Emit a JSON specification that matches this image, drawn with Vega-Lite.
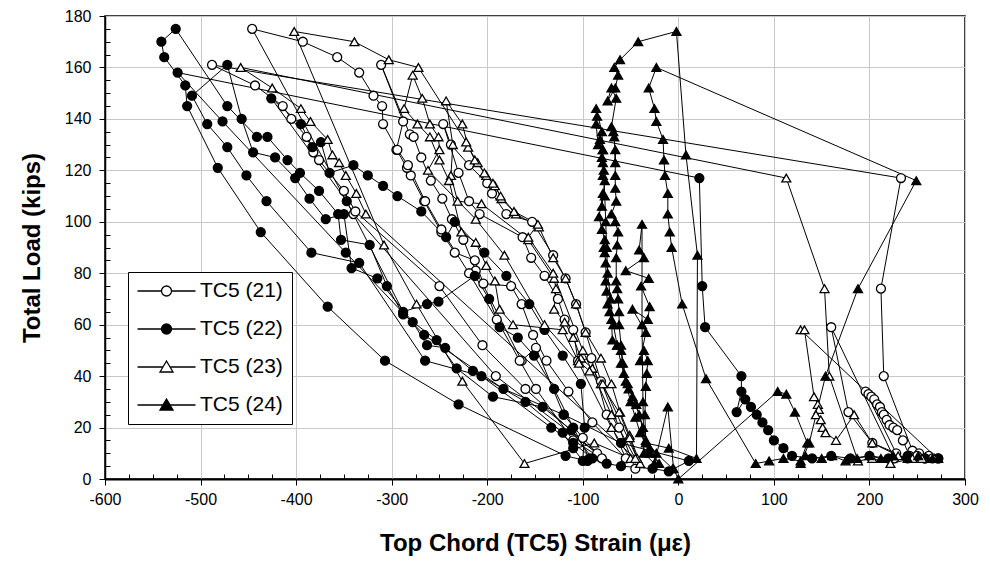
{
"$schema": "https://vega.github.io/schema/vega-lite/v6.json",
"width": 860, "height": 463,
"autosize": {"type": "none"},
"padding": {"left": 105, "top": 16, "right": 25, "bottom": 94},
"background": "white",
"config": {"font": "Liberation Sans", "view": {"stroke": "black", "strokeWidth": 1.5},
  "axis": {"labelFont": "Liberation Sans", "labelFontSize": 16, "labelColor": "black", "titleFont": "Liberation Sans", "titleFontWeight": "bold", "titleFontSize": 24, "titleColor": "black", "domainColor": "black", "tickColor": "black", "gridColor": "#c8c8c8", "gridWidth": 1}},
"data": {"values": [
{"s":"21","i":1,"x":-45,"y":4},{"s":"21","i":1.5,"x":-62,"y":20},{"s":"21","i":2,"x":-81,"y":38},{"s":"21","i":3,"x":-97,"y":57},{"s":"21","i":4,"x":-107,"y":68},{"s":"21","i":5,"x":-118,"y":78},{"s":"21","i":6,"x":-131,"y":87},{"s":"21","i":7,"x":-153,"y":100},{"s":"21","i":8,"x":-180,"y":103},{"s":"21","i":9,"x":-195,"y":111},{"s":"21","i":10,"x":-200,"y":115},{"s":"21","i":11,"x":-219,"y":122},{"s":"21","i":12,"x":-238,"y":130},{"s":"21","i":13,"x":-246,"y":138},{"s":"21","i":14,"x":-230,"y":119},{"s":"21","i":15,"x":-219,"y":108},{"s":"21","i":16,"x":-208,"y":103},{"s":"21","i":17,"x":-163,"y":94},{"s":"21","i":18,"x":-154,"y":86},{"s":"21","i":19,"x":-140,"y":79},{"s":"21","i":20,"x":-126,"y":70},{"s":"21","i":21,"x":-119,"y":62},{"s":"21","i":22,"x":-110,"y":58},{"s":"21","i":23,"x":-105,"y":46},{"s":"21","i":24,"x":-91,"y":47},{"s":"21","i":25,"x":-75,"y":25},{"s":"21","i":26,"x":-55,"y":8},{"s":"21","i":26.3,"x":-90,"y":22},{"s":"21","i":26.6,"x":-115,"y":34},{"s":"21","i":27,"x":-138,"y":46},{"s":"21","i":28,"x":-152,"y":56},{"s":"21","i":29,"x":-164,"y":68},{"s":"21","i":30,"x":-175,"y":75},{"s":"21","i":31,"x":-204,"y":76},{"s":"21","i":32,"x":-213,"y":85},{"s":"21","i":33,"x":-234,"y":88},{"s":"21","i":34,"x":-248,"y":96},{"s":"21","i":35,"x":-266,"y":108},{"s":"21","i":36,"x":-280,"y":118},{"s":"21","i":37,"x":-284,"y":121},{"s":"21","i":38,"x":-295,"y":128},{"s":"21","i":39,"x":-288,"y":139},{"s":"21","i":40,"x":-311,"y":161},{"s":"21","i":41,"x":-281,"y":134},{"s":"21","i":42,"x":-277,"y":133},{"s":"21","i":43,"x":-269,"y":125},{"s":"21","i":44,"x":-259,"y":116},{"s":"21","i":45,"x":-247,"y":109},{"s":"21","i":46,"x":-237,"y":101},{"s":"21","i":47,"x":-225,"y":93},{"s":"21","i":48,"x":-212,"y":81},{"s":"21","i":49,"x":-164,"y":46},{"s":"21","i":50,"x":-149,"y":51},{"s":"21","i":51,"x":-120,"y":25},{"s":"21","i":51.5,"x":-100,"y":16},{"s":"21","i":52,"x":-85,"y":10},{"s":"21","i":53,"x":-191,"y":40},{"s":"21","i":54,"x":-340,"y":103},{"s":"21","i":55,"x":-446,"y":175},{"s":"21","i":56,"x":-393,"y":170},{"s":"21","i":57,"x":-357,"y":164},{"s":"21","i":58,"x":-334,"y":158},{"s":"21","i":59,"x":-319,"y":149},{"s":"21","i":60,"x":-310,"y":145},{"s":"21","i":61,"x":-309,"y":138},{"s":"21","i":62,"x":-294,"y":128},{"s":"21","i":63,"x":-283,"y":122},{"s":"21","i":64,"x":-265,"y":108},{"s":"21","i":65,"x":-248,"y":97},{"s":"21","i":66,"x":-219,"y":80},{"s":"21","i":67,"x":-190,"y":62},{"s":"21","i":68,"x":-166,"y":46},{"s":"21","i":69,"x":-149,"y":35},{"s":"21","i":70,"x":-110,"y":15},{"s":"21","i":71,"x":-80,"y":8},{"s":"21","i":71.5,"x":-160,"y":35},{"s":"21","i":71.7,"x":-205,"y":52},{"s":"21","i":72,"x":-250,"y":75},{"s":"21","i":73,"x":-338,"y":104},{"s":"21","i":74,"x":-350,"y":112},{"s":"21","i":75,"x":-376,"y":124},{"s":"21","i":76,"x":-382,"y":127},{"s":"21","i":77,"x":-389,"y":133},{"s":"21","i":78,"x":-405,"y":140},{"s":"21","i":79,"x":-414,"y":145},{"s":"21","i":80,"x":-443,"y":153},{"s":"21","i":81,"x":-488,"y":161},{"s":"21","i":82,"x":233,"y":117},{"s":"21","i":83,"x":212,"y":74},{"s":"21","i":84,"x":215,"y":40},{"s":"21","i":85,"x":245,"y":11},{"s":"21","i":86,"x":252,"y":10},{"s":"21","i":87,"x":262,"y":9},{"s":"21","i":88,"x":240,"y":8},{"s":"21","i":89,"x":226,"y":8},{"s":"21","i":90,"x":160,"y":59},{"s":"21","i":91,"x":178,"y":26},{"s":"21","i":92,"x":203,"y":14},{"s":"21","i":93,"x":228,"y":10},{"s":"21","i":94,"x":196,"y":34},{"s":"21","i":95,"x":199,"y":33},{"s":"21","i":96,"x":202,"y":32},{"s":"21","i":97,"x":205,"y":31},{"s":"21","i":98,"x":208,"y":29},{"s":"21","i":99,"x":211,"y":28},{"s":"21","i":100,"x":213,"y":26},{"s":"21","i":101,"x":215,"y":25},{"s":"21","i":102,"x":218,"y":23},{"s":"21","i":103,"x":221,"y":21},{"s":"21","i":104,"x":225,"y":20},{"s":"21","i":105,"x":229,"y":19},{"s":"21","i":106,"x":235,"y":15},{"s":"21","i":107,"x":242,"y":9},{"s":"21","i":108,"x":250,"y":9},{"s":"21","i":109,"x":258,"y":8},{"s":"21","i":110,"x":266,"y":8},{"s":"21","i":111,"x":272,"y":8},
{"s":"22","i":1,"x":-95,"y":7},{"s":"22","i":2,"x":-118,"y":9},{"s":"22","i":3,"x":-230,"y":29},{"s":"22","i":4,"x":-307,"y":46},{"s":"22","i":5,"x":-367,"y":67},{"s":"22","i":6,"x":-437,"y":96},{"s":"22","i":7,"x":-482,"y":121},{"s":"22","i":8,"x":-514,"y":145},{"s":"22","i":9,"x":-516,"y":153},{"s":"22","i":10,"x":-538,"y":164},{"s":"22","i":11,"x":-541,"y":170},{"s":"22","i":12,"x":-526,"y":175},{"s":"22","i":13,"x":-472,"y":145},{"s":"22","i":14,"x":-441,"y":133},{"s":"22","i":15,"x":-430,"y":133},{"s":"22","i":16,"x":-409,"y":124},{"s":"22","i":17,"x":-396,"y":119},{"s":"22","i":18,"x":-376,"y":112},{"s":"22","i":19,"x":-356,"y":103},{"s":"22","i":20,"x":-353,"y":93},{"s":"22","i":21,"x":-323,"y":91},{"s":"22","i":22,"x":-305,"y":75},{"s":"22","i":23,"x":-288,"y":64},{"s":"22","i":24,"x":-253,"y":54},{"s":"22","i":25,"x":-232,"y":43},{"s":"22","i":26,"x":-194,"y":32},{"s":"22","i":27,"x":-142,"y":28},{"s":"22","i":28,"x":-112,"y":19},{"s":"22","i":29,"x":-90,"y":8},{"s":"22","i":29.5,"x":-110,"y":14},{"s":"22","i":30,"x":-133,"y":20},{"s":"22","i":31,"x":-206,"y":40},{"s":"22","i":32,"x":-265,"y":46},{"s":"22","i":33,"x":-334,"y":84},{"s":"22","i":34,"x":-384,"y":88},{"s":"22","i":35,"x":-431,"y":108},{"s":"22","i":36,"x":-452,"y":118},{"s":"22","i":37,"x":-472,"y":129},{"s":"22","i":38,"x":-493,"y":138},{"s":"22","i":39,"x":-509,"y":149},{"s":"22","i":40,"x":-472,"y":161},{"s":"22","i":41,"x":-457,"y":140},{"s":"22","i":42,"x":-445,"y":127},{"s":"22","i":43,"x":-422,"y":125},{"s":"22","i":44,"x":-401,"y":117},{"s":"22","i":45,"x":-386,"y":109},{"s":"22","i":46,"x":-369,"y":101},{"s":"22","i":47,"x":-350,"y":103},{"s":"22","i":48,"x":-342,"y":82},{"s":"22","i":49,"x":-315,"y":78},{"s":"22","i":50,"x":-278,"y":61},{"s":"22","i":51,"x":-263,"y":52},{"s":"22","i":52,"x":-244,"y":51},{"s":"22","i":53,"x":-215,"y":42},{"s":"22","i":54,"x":-160,"y":30},{"s":"22","i":55,"x":-121,"y":18},{"s":"22","i":55.5,"x":-110,"y":12},{"s":"22","i":56,"x":-100,"y":7},{"s":"22","i":56.5,"x":-98,"y":20},{"s":"22","i":57,"x":-102,"y":37},{"s":"22","i":58,"x":-121,"y":48},{"s":"22","i":59,"x":-140,"y":58},{"s":"22","i":60,"x":-156,"y":68},{"s":"22","i":61,"x":-180,"y":79},{"s":"22","i":62,"x":-203,"y":88},{"s":"22","i":63,"x":-234,"y":100},{"s":"22","i":64,"x":-243,"y":94},{"s":"22","i":65,"x":-269,"y":104},{"s":"22","i":66,"x":-294,"y":110},{"s":"22","i":67,"x":-309,"y":114},{"s":"22","i":68,"x":-325,"y":118},{"s":"22","i":69,"x":-340,"y":122},{"s":"22","i":70,"x":-365,"y":119},{"s":"22","i":71,"x":-374,"y":131},{"s":"22","i":72,"x":-383,"y":129},{"s":"22","i":73,"x":-395,"y":138},{"s":"22","i":74,"x":-426,"y":148},{"s":"22","i":75,"x":-347,"y":108},{"s":"22","i":76,"x":-288,"y":65},{"s":"22","i":77,"x":-263,"y":68},{"s":"22","i":78,"x":-251,"y":69},{"s":"22","i":79,"x":-213,"y":79},{"s":"22","i":80,"x":-198,"y":70},{"s":"22","i":81,"x":-187,"y":59},{"s":"22","i":82,"x":-168,"y":55},{"s":"22","i":83,"x":-151,"y":48},{"s":"22","i":84,"x":-130,"y":35},{"s":"22","i":85,"x":-110,"y":20},{"s":"22","i":86,"x":-93,"y":8},{"s":"22","i":86.5,"x":-75,"y":6},{"s":"22","i":87,"x":-60,"y":5},{"s":"22","i":88,"x":-27,"y":4},{"s":"22","i":88.5,"x":-10,"y":3},{"s":"22","i":89,"x":11,"y":7},{"s":"22","i":89.5,"x":-60,"y":14},{"s":"22","i":89.7,"x":-120,"y":25},{"s":"22","i":90,"x":-183,"y":35},{"s":"22","i":91,"x":-266,"y":56},{"s":"22","i":92,"x":-348,"y":88},{"s":"22","i":93,"x":-477,"y":139},{"s":"22","i":94,"x":-524,"y":158},{"s":"22","i":95,"x":22,"y":117},{"s":"22","i":96,"x":25,"y":75},{"s":"22","i":97,"x":28,"y":59},{"s":"22","i":98,"x":66,"y":40},{"s":"22","i":99,"x":66,"y":34},{"s":"22","i":100,"x":61,"y":26},{"s":"22","i":101,"x":70,"y":31},{"s":"22","i":102,"x":76,"y":28},{"s":"22","i":103,"x":82,"y":25},{"s":"22","i":104,"x":88,"y":22},{"s":"22","i":105,"x":94,"y":19},{"s":"22","i":106,"x":100,"y":15},{"s":"22","i":107,"x":110,"y":12},{"s":"22","i":108,"x":119,"y":9},{"s":"22","i":109,"x":140,"y":8},{"s":"22","i":110,"x":160,"y":9},{"s":"22","i":111,"x":180,"y":8},{"s":"22","i":112,"x":200,"y":9},{"s":"22","i":113,"x":220,"y":8},{"s":"22","i":114,"x":240,"y":9},{"s":"22","i":115,"x":258,"y":8},{"s":"22","i":116,"x":272,"y":8},
{"s":"23","i":1,"x":-40,"y":6},{"s":"23","i":2,"x":-51,"y":17},{"s":"23","i":3,"x":-61,"y":26},{"s":"23","i":4,"x":-70,"y":37},{"s":"23","i":5,"x":-81,"y":47},{"s":"23","i":6,"x":-97,"y":57},{"s":"23","i":7,"x":-107,"y":68},{"s":"23","i":8,"x":-118,"y":78},{"s":"23","i":9,"x":-131,"y":86},{"s":"23","i":10,"x":-146,"y":98},{"s":"23","i":11,"x":-170,"y":103},{"s":"23","i":12,"x":-185,"y":109},{"s":"23","i":13,"x":-192,"y":114},{"s":"23","i":14,"x":-201,"y":118},{"s":"23","i":15,"x":-210,"y":123},{"s":"23","i":16,"x":-220,"y":129},{"s":"23","i":17,"x":-226,"y":138},{"s":"23","i":18,"x":-243,"y":147},{"s":"23","i":19,"x":-236,"y":130},{"s":"23","i":20,"x":-238,"y":118},{"s":"23","i":21,"x":-231,"y":108},{"s":"23","i":22,"x":-206,"y":107},{"s":"23","i":23,"x":-157,"y":93},{"s":"23","i":24,"x":-130,"y":78},{"s":"23","i":25,"x":-128,"y":74},{"s":"23","i":26,"x":-130,"y":66},{"s":"23","i":27,"x":-119,"y":61},{"s":"23","i":28,"x":-110,"y":55},{"s":"23","i":29,"x":-102,"y":47},{"s":"23","i":30,"x":-90,"y":43},{"s":"23","i":31,"x":-81,"y":37},{"s":"23","i":32,"x":-62,"y":26},{"s":"23","i":33,"x":-51,"y":16},{"s":"23","i":34,"x":-43,"y":8},{"s":"23","i":35,"x":-79,"y":37},{"s":"23","i":36,"x":-93,"y":42},{"s":"23","i":37,"x":-105,"y":46},{"s":"23","i":38,"x":-121,"y":58},{"s":"23","i":39,"x":-173,"y":60},{"s":"23","i":40,"x":-187,"y":66},{"s":"23","i":41,"x":-192,"y":77},{"s":"23","i":42,"x":-201,"y":83},{"s":"23","i":43,"x":-212,"y":92},{"s":"23","i":44,"x":-227,"y":96},{"s":"23","i":45,"x":-240,"y":116},{"s":"23","i":46,"x":-250,"y":124},{"s":"23","i":47,"x":-260,"y":133},{"s":"23","i":48,"x":-273,"y":138},{"s":"23","i":49,"x":-287,"y":144},{"s":"23","i":50,"x":-278,"y":157},{"s":"23","i":51,"x":-268,"y":148},{"s":"23","i":52,"x":-260,"y":138},{"s":"23","i":53,"x":-251,"y":133},{"s":"23","i":54,"x":-250,"y":128},{"s":"23","i":55,"x":-262,"y":120},{"s":"23","i":56,"x":-212,"y":101},{"s":"23","i":57,"x":-182,"y":87},{"s":"23","i":58,"x":-140,"y":60},{"s":"23","i":59,"x":-104,"y":45},{"s":"23","i":60,"x":-70,"y":20},{"s":"23","i":61,"x":-50,"y":8},{"s":"23","i":61.5,"x":-88,"y":14},{"s":"23","i":62,"x":-161,"y":6},{"s":"23","i":63,"x":-226,"y":38},{"s":"23","i":64,"x":-274,"y":68},{"s":"23","i":65,"x":-308,"y":91},{"s":"23","i":66,"x":-402,"y":174},{"s":"23","i":67,"x":-339,"y":170},{"s":"23","i":68,"x":-303,"y":163},{"s":"23","i":69,"x":-272,"y":160},{"s":"23","i":70,"x":-222,"y":131},{"s":"23","i":71,"x":-213,"y":124},{"s":"23","i":72,"x":-203,"y":119},{"s":"23","i":73,"x":-194,"y":115},{"s":"23","i":74,"x":-186,"y":110},{"s":"23","i":75,"x":-172,"y":104},{"s":"23","i":76,"x":-147,"y":99},{"s":"23","i":77,"x":-157,"y":94},{"s":"23","i":78,"x":-131,"y":80},{"s":"23","i":79,"x":-100,"y":50},{"s":"23","i":80,"x":-70,"y":25},{"s":"23","i":81,"x":-45,"y":8},{"s":"23","i":82,"x":-327,"y":103},{"s":"23","i":83,"x":-337,"y":111},{"s":"23","i":84,"x":-348,"y":118},{"s":"23","i":85,"x":-355,"y":123},{"s":"23","i":86,"x":-362,"y":126},{"s":"23","i":87,"x":-367,"y":132},{"s":"23","i":88,"x":-385,"y":139},{"s":"23","i":89,"x":-395,"y":144},{"s":"23","i":90,"x":-425,"y":152},{"s":"23","i":91,"x":-458,"y":160},{"s":"23","i":92,"x":113,"y":117},{"s":"23","i":93,"x":153,"y":74},{"s":"23","i":94,"x":158,"y":40},{"s":"23","i":95,"x":188,"y":7},{"s":"23","i":96,"x":203,"y":8},{"s":"23","i":97,"x":222,"y":6},{"s":"23","i":98,"x":245,"y":8},{"s":"23","i":99,"x":271,"y":8},{"s":"23","i":100,"x":128,"y":58},{"s":"23","i":101,"x":132,"y":58},{"s":"23","i":102,"x":142,"y":32},{"s":"23","i":103,"x":146,"y":29},{"s":"23","i":104,"x":147,"y":27},{"s":"23","i":105,"x":144,"y":25},{"s":"23","i":106,"x":149,"y":23},{"s":"23","i":107,"x":151,"y":20},{"s":"23","i":108,"x":154,"y":18},{"s":"23","i":109,"x":165,"y":15},{"s":"23","i":110,"x":184,"y":25},{"s":"23","i":111,"x":203,"y":14},{"s":"23","i":112,"x":230,"y":9},{"s":"23","i":113,"x":255,"y":8},{"s":"23","i":114,"x":268,"y":8},
{"s":"24","i":1,"x":-6,"y":4},{"s":"24","i":2,"x":-23,"y":10},{"s":"24","i":3,"x":-34,"y":15},{"s":"24","i":4,"x":-41,"y":25},{"s":"24","i":5,"x":-48,"y":32},{"s":"24","i":6,"x":-53,"y":37},{"s":"24","i":7,"x":-57,"y":41},{"s":"24","i":8,"x":-60,"y":50},{"s":"24","i":8.5,"x":-64,"y":52},{"s":"24","i":9,"x":-69,"y":54},{"s":"24","i":10,"x":-70,"y":62},{"s":"24","i":10.5,"x":-72,"y":65},{"s":"24","i":11,"x":-74,"y":68},{"s":"24","i":12,"x":-76,"y":77},{"s":"24","i":12.5,"x":-75,"y":73},{"s":"24","i":13,"x":-76,"y":84},{"s":"24","i":14,"x":-77,"y":88},{"s":"24","i":14.5,"x":-78,"y":90},{"s":"24","i":15,"x":-77,"y":93},{"s":"24","i":15.5,"x":-80,"y":97},{"s":"24","i":16,"x":-83,"y":102},{"s":"24","i":17,"x":-79,"y":111},{"s":"24","i":17.5,"x":-80,"y":106},{"s":"24","i":18,"x":-77,"y":116},{"s":"24","i":19,"x":-79,"y":118},{"s":"24","i":20,"x":-79,"y":123},{"s":"24","i":20.5,"x":-80,"y":125},{"s":"24","i":21,"x":-79,"y":128},{"s":"24","i":21.5,"x":-82,"y":132},{"s":"24","i":22,"x":-84,"y":130},{"s":"24","i":23,"x":-86,"y":138},{"s":"24","i":23.5,"x":-85,"y":141},{"s":"24","i":24,"x":-86,"y":144},{"s":"24","i":25,"x":-80,"y":135},{"s":"24","i":25.5,"x":-79,"y":128},{"s":"24","i":26,"x":-78,"y":120},{"s":"24","i":26.5,"x":-77,"y":110},{"s":"24","i":27,"x":-76,"y":100},{"s":"24","i":27.5,"x":-75,"y":90},{"s":"24","i":28,"x":-74,"y":80},{"s":"24","i":28.5,"x":-71,"y":70},{"s":"24","i":29,"x":-68,"y":60},{"s":"24","i":29.5,"x":-64,"y":52},{"s":"24","i":30,"x":-60,"y":45},{"s":"24","i":30.5,"x":-55,"y":38},{"s":"24","i":31,"x":-50,"y":30},{"s":"24","i":31.5,"x":-45,"y":24},{"s":"24","i":32,"x":-40,"y":18},{"s":"24","i":33,"x":-30,"y":10},{"s":"24","i":34,"x":-20,"y":6},{"s":"24","i":35,"x":-30,"y":12},{"s":"24","i":36,"x":-37,"y":20},{"s":"24","i":37,"x":-44,"y":29},{"s":"24","i":38,"x":-52,"y":35},{"s":"24","i":39,"x":-58,"y":45},{"s":"24","i":39.5,"x":-60,"y":52},{"s":"24","i":40,"x":-62,"y":60},{"s":"24","i":40.5,"x":-62,"y":65},{"s":"24","i":41,"x":-63,"y":70},{"s":"24","i":41.5,"x":-64,"y":74},{"s":"24","i":42,"x":-65,"y":77},{"s":"24","i":43,"x":-65,"y":86},{"s":"24","i":43.5,"x":-64,"y":91},{"s":"24","i":44,"x":-63,"y":96},{"s":"24","i":44.5,"x":-66,"y":100},{"s":"24","i":45,"x":-70,"y":103},{"s":"24","i":46,"x":-65,"y":108},{"s":"24","i":46.5,"x":-66,"y":113},{"s":"24","i":47,"x":-66,"y":118},{"s":"24","i":48,"x":-66,"y":128},{"s":"24","i":48.5,"x":-66,"y":123},{"s":"24","i":49,"x":-67,"y":133},{"s":"24","i":49.5,"x":-68,"y":135},{"s":"24","i":50,"x":-70,"y":137},{"s":"24","i":51,"x":-65,"y":148},{"s":"24","i":51.5,"x":-70,"y":152},{"s":"24","i":52,"x":-74,"y":147},{"s":"24","i":52.5,"x":-66,"y":152},{"s":"24","i":53,"x":-63,"y":157},{"s":"24","i":54,"x":-67,"y":160},{"s":"24","i":55,"x":-61,"y":163},{"s":"24","i":56,"x":-42,"y":170},{"s":"24","i":57,"x":-2,"y":174},{"s":"24","i":58,"x":8,"y":126},{"s":"24","i":59,"x":20,"y":87},{"s":"24","i":60,"x":19,"y":8},{"s":"24","i":61,"x":-10,"y":12},{"s":"24","i":62,"x":-34,"y":14},{"s":"24","i":62.5,"x":-35,"y":25},{"s":"24","i":63,"x":-34,"y":36},{"s":"24","i":63.5,"x":-33,"y":41},{"s":"24","i":64,"x":-32,"y":46},{"s":"24","i":64.5,"x":-36,"y":50},{"s":"24","i":65,"x":-40,"y":46},{"s":"24","i":66,"x":-34,"y":57},{"s":"24","i":67,"x":-48,"y":66},{"s":"24","i":67.5,"x":-32,"y":62},{"s":"24","i":68,"x":-30,"y":67},{"s":"24","i":69,"x":-39,"y":75},{"s":"24","i":70,"x":-31,"y":78},{"s":"24","i":71,"x":-55,"y":81},{"s":"24","i":72,"x":-36,"y":86},{"s":"24","i":73,"x":-41,"y":89},{"s":"24","i":74,"x":-38,"y":99},{"s":"24","i":75,"x":-38,"y":60},{"s":"24","i":76,"x":-37,"y":30},{"s":"24","i":77,"x":-36,"y":10},{"s":"24","i":77.5,"x":-25,"y":6},{"s":"24","i":78,"x":-11,"y":28},{"s":"24","i":78.5,"x":-5,"y":4},{"s":"24","i":79,"x":0,"y":0},{"s":"24","i":80,"x":104,"y":34},{"s":"24","i":81,"x":113,"y":33},{"s":"24","i":82,"x":122,"y":26},{"s":"24","i":83,"x":135,"y":14},{"s":"24","i":84,"x":128,"y":7},{"s":"24","i":85,"x":110,"y":8},{"s":"24","i":85.5,"x":95,"y":7},{"s":"24","i":86,"x":81,"y":6},{"s":"24","i":87,"x":29,"y":39},{"s":"24","i":88,"x":4,"y":68},{"s":"24","i":89,"x":-7,"y":90},{"s":"24","i":90,"x":-9,"y":96},{"s":"24","i":91,"x":-11,"y":103},{"s":"24","i":92,"x":-11,"y":111},{"s":"24","i":93,"x":-14,"y":118},{"s":"24","i":94,"x":-15,"y":124},{"s":"24","i":95,"x":-16,"y":132},{"s":"24","i":96,"x":-23,"y":139},{"s":"24","i":97,"x":-25,"y":144},{"s":"24","i":98,"x":-31,"y":152},{"s":"24","i":99,"x":-23,"y":160},{"s":"24","i":100,"x":249,"y":116},{"s":"24","i":101,"x":188,"y":74},{"s":"24","i":102,"x":154,"y":40},{"s":"24","i":103,"x":137,"y":14},{"s":"24","i":104,"x":128,"y":6},{"s":"24","i":105,"x":133,"y":9},{"s":"24","i":106,"x":150,"y":8},{"s":"24","i":107,"x":161,"y":9},{"s":"24","i":108,"x":175,"y":7},{"s":"24","i":109,"x":187,"y":8},{"s":"24","i":110,"x":200,"y":9},{"s":"24","i":111,"x":212,"y":8},{"s":"24","i":112,"x":225,"y":9},{"s":"24","i":113,"x":240,"y":8},{"s":"24","i":114,"x":251,"y":9},{"s":"24","i":115,"x":266,"y":8},{"s":"24","i":116,"x":272,"y":8}
]},
"encoding": {
  "x": {"field": "x", "type": "quantitative", "scale": {"domain": [-600, 300], "nice": false, "zero": false},
    "axis": {"title": "Top Chord (TC5) Strain (με)", "values": [-600,-575,-550,-525,-500,-475,-450,-425,-400,-375,-350,-325,-300,-275,-250,-225,-200,-175,-150,-125,-100,-75,-50,-25,0,25,50,75,100,125,150,175,200,225,250,275,300],
      "labelExpr": "datum.value % 100 === 0 ? '' + datum.value : ''",
      "tickSize": {"condition": {"test": "datum.value % 100 === 0", "value": 6}, "value": -5},
      "gridOpacity": {"condition": {"test": "datum.value % 100 === 0", "value": 1}, "value": 0},
      "domainWidth": 2, "labelPadding": 6, "titlePadding": 24, "labelFlush": false, "labelOverlap": false}},
  "y": {"field": "y", "type": "quantitative", "scale": {"domain": [0, 180], "nice": false, "zero": false},
    "axis": {"title": "Total Load (kips)", "values": [0,5,10,15,20,25,30,35,40,45,50,55,60,65,70,75,80,85,90,95,100,105,110,115,120,125,130,135,140,145,150,155,160,165,170,175,180],
      "labelExpr": "datum.value % 20 === 0 ? '' + datum.value : ''",
      "tickSize": {"condition": {"test": "datum.value % 20 === 0", "value": 6}, "value": -5},
      "gridOpacity": {"condition": {"test": "datum.value % 20 === 0", "value": 1}, "value": 0},
      "domainWidth": 1.5, "labelPadding": 8, "titlePadding": 20, "labelFlush": false, "labelOverlap": false}}
},
"layer": [
  {"mark": {"type": "line", "stroke": "black", "strokeWidth": 1},
   "encoding": {"detail": {"field": "s", "type": "nominal"}, "order": {"field": "i", "type": "quantitative"}}},
  {"mark": {"type": "point", "filled": true, "stroke": "black", "strokeWidth": 1.3, "opacity": 1},
   "encoding": {
     "shape": {"field": "s", "type": "nominal", "scale": {"domain": ["21","22","23","24"], "range": ["circle","circle","triangle-up","triangle-up"]}, "legend": null},
     "fill": {"field": "s", "type": "nominal", "scale": {"domain": ["21","22","23","24"], "range": ["white","black","white","black"]}, "legend": null},
     "size": {"field": "s", "type": "nominal", "scale": {"domain": ["21","22","23","24"], "range": [80,80,140,140]}, "legend": null}}},
  {"transform": [{"filter": "datum.x > 9999"}],
   "mark": {"type": "point", "filled": true, "opacity": 1, "size": 100, "strokeWidth": 1.3},
   "encoding": {
     "stroke": {"field": "s", "type": "nominal", "scale": {"domain": ["21","22","23","24"], "range": ["black","black","black","black"]},
       "legend": {"orient": "none", "legendX": 23, "legendY": 256, "title": null, "labelExpr": "'TC5 (' + datum.label + ')'", "labelFontSize": 21, "labelFont": "Liberation Sans", "labelColor": "black", "labelOffset": 42.5, "rowPadding": 16, "padding": 8.5, "strokeColor": "black", "fillColor": "white", "symbolSize": 100, "symbolStrokeWidth": 1.3, "symbolOpacity": 1}},
     "shape": {"field": "s", "type": "nominal", "scale": {"domain": ["21","22","23","24"], "range": ["M-1.9,0H2.9M4.9,0H9.7M2.9,0A1,1 0 1,0 4.9,0A1,1 0 1,0 2.9,0Z","M-1.9,0H2.9M4.9,0H9.7M2.9,0A1,1 0 1,0 4.9,0A1,1 0 1,0 2.9,0Z","M-1.9,0H3.2M4.6,0H9.7M3.9,-1.2L5.2,1L2.6,1Z","M-1.9,0H3.2M4.6,0H9.7M3.9,-1.2L5.2,1L2.6,1Z"]},
       "legend": {"orient": "none", "legendX": 23, "legendY": 256, "title": null, "labelExpr": "'TC5 (' + datum.label + ')'", "labelFontSize": 21, "labelFont": "Liberation Sans", "labelColor": "black", "labelOffset": 42.5, "rowPadding": 16, "padding": 8.5, "strokeColor": "black", "fillColor": "white", "symbolSize": 100, "symbolStrokeWidth": 1.3, "symbolOpacity": 1}},
     "fill": {"field": "s", "type": "nominal", "scale": {"domain": ["21","22","23","24"], "range": ["white","black","white","black"]},
       "legend": {"orient": "none", "legendX": 23, "legendY": 256, "title": null, "labelExpr": "'TC5 (' + datum.label + ')'", "labelFontSize": 21, "labelFont": "Liberation Sans", "labelColor": "black", "labelOffset": 42.5, "rowPadding": 16, "padding": 8.5, "strokeColor": "black", "fillColor": "white", "symbolSize": 100, "symbolStrokeWidth": 1.3, "symbolOpacity": 1}}}}
],
"resolve": {"scale": {"shape": "independent", "fill": "independent", "stroke": "independent"}}
}
